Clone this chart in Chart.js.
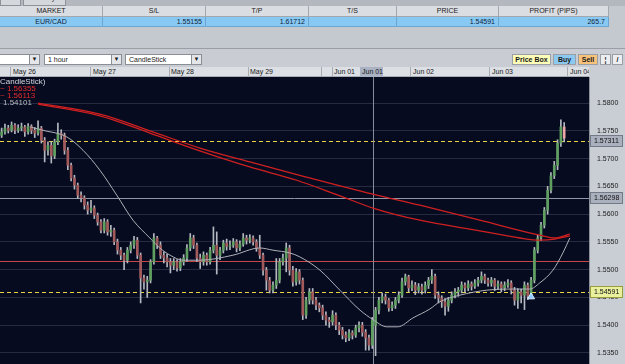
<!DOCTYPE html>
<html>
<head>
<meta charset="utf-8">
<script src="https://cdn.jsdelivr.net/npm/chart.js@4.4.1/dist/chart.umd.min.js"></script>
<style>
  body { margin: 0; width: 625px; height: 364px; overflow: hidden; background: #c4c8cf;
         font-family: "Liberation Sans", Arial, sans-serif; font-size: 7px; color: #1a1a1a; position: relative; }
  .abs { position: absolute; box-sizing: border-box; }
  .tab { background: #d4d7dc; border: 1px solid #8d9198; border-top: none; height: 6px; top: 0; }
  .hcell { top: 6px; height: 11px; line-height: 10px; text-align: center; background: #dadde2;
           border-right: 1px solid #a3a7ae; border-bottom: 1px solid #a3a7ae; }
  .dcell { top: 17px; height: 10px; line-height: 10px; text-align: right; padding-right: 3px; background: #87c9f3;
           border-right: 1px solid #6aa6cf; border-bottom: 1px solid #6aa6cf; color: #10243a; }
  .dd { top: 54px; height: 11px; background: #fff; border: 1px solid #8a8e95; line-height: 9px; padding-left: 3px; }
  .dd .arr { position: absolute; right: 0; top: 0; width: 9px; height: 9px; background: #e4e6ea;
             border-left: 1px solid #8a8e95; font-size: 6px; text-align: center; line-height: 9px; }
  .btn { top: 54px; height: 11px; line-height: 9px; text-align: center; border: 1px solid #9a9ea5; font-weight: bold; }
  .dsep { top: 67px; width: 1px; height: 10px; background: #a8acb3; }
  .dlab { top: 67px; height: 10px; line-height: 10px; }
  #wrap { left: 0; top: 77px; width: 625px; height: 287px; }
  .lg { left: 0; line-height: 7px; white-space: nowrap; font-size: 8px; }
</style>
</head>
<body>
<div class="abs" style="left:0;top:0;width:625px;height:6px;background:#b3b7be"></div>
<div class="abs tab" style="left:0;width:21px"></div>
<div class="abs tab" style="left:23px;width:43px;overflow:hidden"><span style="position:absolute;left:9px;top:-6px">Activity</span></div>

<div class="abs hcell" style="left:0;width:103px">MARKET</div>
<div class="abs hcell" style="left:103px;width:103px">S/L</div>
<div class="abs hcell" style="left:206px;width:103px">T/P</div>
<div class="abs hcell" style="left:309px;width:88px">T/S</div>
<div class="abs hcell" style="left:397px;width:102px">PRICE</div>
<div class="abs hcell" style="left:499px;width:110px">PROFIT (PIPS)</div>
<div class="abs dcell" style="left:0;width:103px;text-align:center;padding:0">EUR/CAD</div>
<div class="abs dcell" style="left:103px;width:103px">1.55155</div>
<div class="abs dcell" style="left:206px;width:103px">1.61712</div>
<div class="abs dcell" style="left:309px;width:88px"></div>
<div class="abs dcell" style="left:397px;width:102px">1.54591</div>
<div class="abs dcell" style="left:499px;width:110px">265.7</div>

<div class="abs" style="left:0;top:48px;width:625px;height:19px;background:#c9cdd3;border-top:1px solid #9a9ea6"></div>
<div class="abs dd" style="left:-2px;width:42px"><span class="arr">▼</span></div>
<div class="abs dd" style="left:44px;width:78px">1 hour<span class="arr">▼</span></div>
<div class="abs dd" style="left:125px;width:77px">CandleStick<span class="arr">▼</span></div>
<div class="abs btn" style="left:512px;width:39px;background:#fdfdb8">Price Box</div>
<div class="abs btn" style="left:553px;width:23px;background:#8cc9f1">Buy</div>
<div class="abs btn" style="left:578px;width:20px;background:#f7c27a">Sell</div>
<div class="abs btn" style="left:600px;width:11px;background:#eceef1">¦</div>
<div class="abs btn" style="left:612px;width:11px;background:#eceef1">/</div>

<div class="abs" style="left:0;top:67px;width:625px;height:10px;background:#dcdfe4;border-bottom:1px solid #a8acb3"></div>
<div class="abs" style="left:360px;top:67px;width:23px;height:10px;background:#a9b1c3"></div>
<div class="abs dsep" style="left:10px"></div><div class="abs dlab" style="left:13px">May 26</div>
<div class="abs dsep" style="left:90px"></div><div class="abs dlab" style="left:93px">May 27</div>
<div class="abs dsep" style="left:169px"></div><div class="abs dlab" style="left:171px">May 28</div>
<div class="abs dsep" style="left:248px"></div><div class="abs dlab" style="left:250px">May 29</div>
<div class="abs dsep" style="left:321px"></div>
<div class="abs dsep" style="left:332px"></div><div class="abs dlab" style="left:334px">Jun 01</div>
<div class="abs dlab" style="left:362px">Jun 01</div>
<div class="abs dsep" style="left:410px"></div><div class="abs dlab" style="left:413px">Jun 02</div>
<div class="abs dsep" style="left:489px"></div><div class="abs dlab" style="left:492px">Jun 03</div>
<div class="abs dsep" style="left:567px"></div><div class="abs dlab" style="left:570px">Jun 04</div>
<div class="abs" style="left:589px;top:67px;width:36px;height:10px;background:#c9cdd4"></div>

<div class="abs" id="wrap"><canvas id="chart"></canvas></div>

<div class="abs lg" style="top:78px;color:#d6d8de">CandleStick)</div>
<div class="abs lg" style="top:85px;color:#e52b2b">~ 1.56355</div>
<div class="abs lg" style="top:92px;color:#e52b2b">~ 1.56113</div>
<div class="abs lg" style="top:99px;left:3px;color:#b9bcc4">1.54101</div>

<script>
// hourly EUR/CAD candles
const opens = [1.5742,1.5748,1.5755,1.5751,1.5760,1.5751,1.5755,1.5757,1.5748,1.5758,
  1.5751,1.5746,1.5755,1.5733,1.5715,1.5724,1.5705,1.5730,1.5745,1.5742,
  1.5715,1.5688,1.5665,1.5652,1.5634,1.5629,1.5616,1.5607,1.5611,1.5598,
  1.5586,1.5571,1.5586,1.5568,1.5571,1.5550,1.5535,1.5526,1.5517,1.5535,
  1.5544,1.5553,1.5526,1.5485,1.5478,1.5481,1.5514,1.5557,1.5544,1.5526,
  1.5521,1.5514,1.5508,1.5514,1.5503,1.5514,1.5521,1.5539,1.5557,1.5544,
  1.5521,1.5514,1.5526,1.5514,1.5535,1.5544,1.5526,1.5535,1.5548,1.5542,
  1.5544,1.5550,1.5539,1.5546,1.5557,1.5553,1.5557,1.5550,1.5539,1.5526,
  1.5499,1.5481,1.5463,1.5472,1.5481,1.5514,1.5521,1.5539,1.5499,1.5478,
  1.5496,1.5481,1.5418,1.5445,1.5460,1.5445,1.5436,1.5431,1.5418,1.5409,
  1.5406,1.5418,1.5400,1.5391,1.5382,1.5377,1.5386,1.5382,1.5395,1.5400,
  1.5387,1.5377,1.5364,1.5400,1.5427,1.5445,1.5451,1.5445,1.5431,1.5436,
  1.5445,1.5454,1.5478,1.5487,1.5467,1.5472,1.5463,1.5469,1.5463,1.5472,
  1.5481,1.5488,1.5454,1.5449,1.5442,1.5434,1.5445,1.5454,1.5460,1.5463,
  1.5472,1.5467,1.5474,1.5470,1.5476,1.5481,1.5488,1.5481,1.5476,1.5481,
  1.5470,1.5474,1.5467,1.5472,1.5476,1.5463,1.5445,1.5460,1.5454,1.5472,
  1.5452,1.5481,1.5535,1.5557,1.5580,1.5607,1.5643,1.5669,1.5688,1.5728,
  1.5757];
const highs = [1.5755,1.5762,1.5760,1.5766,1.5763,1.5761,1.5764,1.5760,1.5763,1.5761,
  1.5756,1.5768,1.5758,1.5738,1.5730,1.5730,1.5735,1.5764,1.5752,1.5746,
  1.5720,1.5692,1.5670,1.5656,1.5640,1.5633,1.5622,1.5625,1.5615,1.5602,
  1.5590,1.5592,1.5590,1.5580,1.5575,1.5555,1.5540,1.5530,1.5540,1.5550,
  1.5560,1.5558,1.5530,1.5490,1.5488,1.5518,1.5565,1.5560,1.5550,1.5532,
  1.5528,1.5520,1.5520,1.5518,1.5520,1.5527,1.5545,1.5565,1.5562,1.5548,
  1.5528,1.5532,1.5530,1.5540,1.5577,1.5568,1.5540,1.5553,1.5555,1.5552,
  1.5556,1.5554,1.5552,1.5565,1.5562,1.5563,1.5561,1.5554,1.5562,1.5530,
  1.5504,1.5486,1.5478,1.5520,1.5520,1.5528,1.5548,1.5544,1.5506,1.5502,
  1.5500,1.5485,1.5450,1.5466,1.5466,1.5450,1.5440,1.5436,1.5424,1.5414,
  1.5426,1.5422,1.5405,1.5396,1.5388,1.5392,1.5390,1.5400,1.5406,1.5405,
  1.5392,1.5382,1.5414,1.5432,1.5450,1.5458,1.5456,1.5448,1.5442,1.5450,
  1.5460,1.5485,1.5492,1.5490,1.5480,1.5477,1.5475,1.5474,1.5478,1.5486,
  1.5500,1.5492,1.5460,1.5453,1.5448,1.5450,1.5460,1.5466,1.5468,1.5478,
  1.5476,1.5480,1.5478,1.5482,1.5486,1.5496,1.5492,1.5485,1.5486,1.5484,
  1.5480,1.5478,1.5478,1.5482,1.5480,1.5468,1.5466,1.5465,1.5478,1.5476,
  1.5486,1.5540,1.5562,1.5585,1.5612,1.5650,1.5675,1.5695,1.5734,1.5770,
  1.5765];
const lows = [1.5738,1.5744,1.5746,1.5748,1.5745,1.5747,1.5750,1.5740,1.5744,1.5745,
  1.5738,1.5742,1.5728,1.5694,1.5706,1.5692,1.5700,1.5725,1.5735,1.5708,
  1.5680,1.5660,1.5645,1.5628,1.5622,1.5609,1.5600,1.5602,1.5592,1.5580,
  1.5566,1.5566,1.5562,1.5560,1.5545,1.5528,1.5518,1.5500,1.5512,1.5530,
  1.5538,1.5520,1.5440,1.5465,1.5450,1.5476,1.5510,1.5538,1.5520,1.5512,
  1.5505,1.5494,1.5500,1.5497,1.5498,1.5508,1.5515,1.5534,1.5538,1.5515,
  1.5502,1.5508,1.5508,1.5510,1.5530,1.5492,1.5518,1.5530,1.5535,1.5536,
  1.5540,1.5532,1.5534,1.5542,1.5546,1.5548,1.5544,1.5533,1.5520,1.5490,
  1.5463,1.5458,1.5458,1.5466,1.5476,1.5508,1.5496,1.5490,1.5470,1.5472,
  1.5474,1.5410,1.5412,1.5438,1.5438,1.5428,1.5424,1.5410,1.5400,1.5396,
  1.5400,1.5392,1.5383,1.5375,1.5370,1.5372,1.5375,1.5378,1.5388,1.5380,
  1.5355,1.5355,1.5358,1.5345,1.5420,1.5440,1.5438,1.5425,1.5426,1.5430,
  1.5440,1.5450,1.5472,1.5460,1.5462,1.5455,1.5458,1.5456,1.5458,1.5466,
  1.5475,1.5448,1.5440,1.5432,1.5418,1.5425,1.5440,1.5449,1.5452,1.5458,
  1.5460,1.5462,1.5463,1.5466,1.5470,1.5476,1.5475,1.5470,1.5470,1.5462,
  1.5465,1.5460,1.5462,1.5468,1.5456,1.5436,1.5430,1.5440,1.5428,1.5446,
  1.5448,1.5476,1.5530,1.5552,1.5575,1.5600,1.5638,1.5664,1.5680,1.5722,
  1.5730];
const closes = [1.5748,1.5755,1.5751,1.5760,1.5751,1.5755,1.5757,1.5748,1.5758,1.5751,
  1.5746,1.5755,1.5733,1.5715,1.5724,1.5705,1.5730,1.5745,1.5742,1.5715,
  1.5688,1.5665,1.5652,1.5634,1.5629,1.5616,1.5607,1.5611,1.5598,1.5586,
  1.5571,1.5586,1.5568,1.5571,1.5550,1.5535,1.5526,1.5517,1.5535,1.5544,
  1.5553,1.5526,1.5485,1.5478,1.5481,1.5514,1.5557,1.5544,1.5526,1.5521,
  1.5514,1.5508,1.5514,1.5503,1.5514,1.5521,1.5539,1.5557,1.5544,1.5521,
  1.5514,1.5526,1.5514,1.5535,1.5544,1.5526,1.5535,1.5548,1.5542,1.5544,
  1.5550,1.5539,1.5546,1.5557,1.5553,1.5557,1.5550,1.5539,1.5526,1.5499,
  1.5481,1.5463,1.5472,1.5481,1.5514,1.5521,1.5539,1.5499,1.5478,1.5496,
  1.5481,1.5418,1.5445,1.5460,1.5445,1.5436,1.5431,1.5418,1.5409,1.5406,
  1.5418,1.5400,1.5391,1.5382,1.5377,1.5386,1.5382,1.5395,1.5400,1.5387,
  1.5377,1.5364,1.5409,1.5427,1.5445,1.5451,1.5445,1.5431,1.5436,1.5445,
  1.5454,1.5478,1.5487,1.5467,1.5472,1.5463,1.5469,1.5463,1.5472,1.5481,
  1.5488,1.5454,1.5449,1.5442,1.5434,1.5445,1.5454,1.5460,1.5463,1.5472,
  1.5467,1.5474,1.5470,1.5476,1.5481,1.5488,1.5481,1.5476,1.5481,1.5470,
  1.5474,1.5467,1.5472,1.5476,1.5463,1.5445,1.5460,1.5454,1.5472,1.5452,
  1.5481,1.5535,1.5557,1.5580,1.5607,1.5643,1.5669,1.5688,1.5728,1.5757,
  1.5737];

// moving averages, sampled at candle positions
const greyIdx = [8.6,12.5,19.7,24.6,29.7,34.8,39.7,44.8,47.8,50.9,54.8,59.9,69.9,78,82,87.1,90.1,96.2,102.2,108.3,112.2,116.4,119.7,124.3,129.4,132.4,138.5,146.6,154.5,159.6,162.6,166.6,169.6,171.7];
const greyVals = [1.5757,1.5751,1.5739,1.5715,1.5679,1.5634,1.5589,1.5557,1.5539,1.5526,1.5517,1.5517,1.5526,1.5539,1.5535,1.5530,1.5523,1.5499,1.5463,1.5427,1.5410,1.5397,1.5397,1.5413,1.5429,1.5442,1.5454,1.5463,1.5465,1.5465,1.5476,1.5499,1.5530,1.5557];
const redAIdx = [11,29.7,44.8,59.9,75,90.1,112.2,126.4,144.5,162.6,167.2,171.7];
const redAVals = [1.5800,1.5780,1.5750,1.5719,1.5694,1.5670,1.5636,1.5616,1.5589,1.5562,1.5557,1.5564];
const redBIdx = [11,29.7,44.8,59.9,75,89.2,102.2,112.2,126.4,144.5,156.6,162.6,167.2,171.7];
const redBVals = [1.5798,1.5777,1.5746,1.5714,1.5685,1.5661,1.5633,1.5611,1.5589,1.5570,1.5557,1.5553,1.5555,1.5561];

const levels = [1.57311, 1.56298, 1.55155, 1.54591];
const cursorIdx = 112.2;
const entryIdx = [160];
const entryVals = [1.5451];

const slots = 178;
const last = closes.length - 1;

function pts(idx, vals) {
    return idx.map((x, i) => ({ x: x, y: vals[i] }));
}

const wickData = highs.map((h, i) => ({ x: i, y: [lows[i], h] }));
const bodyData = opens.map((o, i) => ({ x: i, y: [o, closes[i]] }));
const bodyColors = opens.map((o, i) => i === last ? '#eaa6a6' : (closes[i] >= o ? '#5f9f5f' : '#a25a5a'));

const panelPlugin = {
    id: 'panel',
    beforeDraw(chart) {
        const { ctx, chartArea: a, width, height } = chart;
        ctx.save();
        ctx.fillStyle = '#070b20';
        ctx.fillRect(0, 0, width, height);
        ctx.fillStyle = '#c9cdd4';
        ctx.fillRect(a.right, 0, width - a.right, height);
        ctx.fillStyle = '#8c9098';
        ctx.fillRect(a.right, 0, 1, height);
        ctx.restore();
    },
    beforeDatasetsDraw(chart) {
        const { ctx, chartArea: a, scales } = chart;
        const y = scales.y, x = scales.x;
        const styles = [
            { c: '#e8d442', d: [4, 3] },
            { c: '#8f96a6', d: [] },
            { c: '#c44848', d: [] },
            { c: '#e8d442', d: [4, 3] }
        ];
        ctx.save();
        ctx.lineWidth = 1;
        levels.forEach((v, i) => {
            const py = Math.round(y.getPixelForValue(v)) + 0.5;
            ctx.strokeStyle = styles[i].c;
            ctx.setLineDash(styles[i].d);
            ctx.beginPath();
            ctx.moveTo(a.left, py);
            ctx.lineTo(a.right, py);
            ctx.stroke();
        });
        ctx.setLineDash([]);
        ctx.strokeStyle = '#868c9a';
        const px = Math.round(x.getPixelForValue(cursorIdx)) + 0.5;
        ctx.beginPath();
        ctx.moveTo(px, a.top);
        ctx.lineTo(px, a.bottom);
        ctx.stroke();
        ctx.restore();
    },
    afterDraw(chart) {
        const { ctx, chartArea: a, scales } = chart;
        const fills = ['#aab0bd', '#aab0bd', null, '#e9f09e'];
        const edges = ['#737985', '#737985', null, '#9c9c3c'];
        ctx.save();
        ctx.font = '7px "Liberation Sans", Arial, sans-serif';
        ctx.textBaseline = 'middle';
        levels.forEach((v, i) => {
            if (!fills[i]) return;
            const py = Math.round(scales.y.getPixelForValue(v));
            ctx.fillStyle = fills[i];
            ctx.fillRect(a.right + 1, py - 6, 33, 12);
            ctx.strokeStyle = edges[i];
            ctx.strokeRect(a.right + 1.5, py - 5.5, 32, 11);
            ctx.fillStyle = '#111';
            ctx.fillText(v.toFixed(5), a.right + 5, py + 0.5);
        });
        ctx.restore();
    }
};

new Chart(document.getElementById('chart'), {
    type: 'bar',
    data: {
        datasets: [
            { type: 'line', data: pts(greyIdx, greyVals), borderColor: '#aeb1b8', borderWidth: 1,
              pointRadius: 0, cubicInterpolationMode: 'monotone', order: 0 },
            { type: 'line', data: pts(redAIdx, redAVals), borderColor: '#cf2020', borderWidth: 1.3,
              pointRadius: 0, cubicInterpolationMode: 'monotone', order: 0 },
            { type: 'line', data: pts(redBIdx, redBVals), borderColor: '#cf2020', borderWidth: 1.3,
              pointRadius: 0, cubicInterpolationMode: 'monotone', order: 0 },
            { type: 'line', data: pts(entryIdx, entryVals), showLine: false, pointStyle: 'triangle',
              pointRadius: 4, backgroundColor: '#8ec8ff', borderColor: '#d4ecff', borderWidth: 1, order: 0 },
            { data: bodyData, backgroundColor: bodyColors, barThickness: 2, grouped: false, order: 1 },
            { data: wickData, backgroundColor: '#b4b8c0', barThickness: 1, grouped: false, order: 2 }
        ]
    },
    options: {
        responsive: true,
        maintainAspectRatio: false,
        animation: false,
        events: [],
        layout: { padding: 0, autoPadding: false },
        plugins: { legend: { display: false }, tooltip: { enabled: false } },
        scales: {
            x: { type: 'linear', display: false, offset: false, min: -0.5, max: slots - 0.5 },
            y: {
                position: 'right',
                min: 1.5330,
                max: 1.5847,
                afterFit(s) { s.width = 36; s.paddingTop = 0; s.paddingBottom = 0; },
                border: { display: false },
                grid: { color: 'rgba(120,130,155,0.28)', drawTicks: false },
                ticks: {
                    stepSize: 0.005,
                    includeBounds: false,
                    padding: 8,
                    color: '#1c1c1c',
                    font: { family: '"Liberation Sans", Arial, sans-serif', size: 7 },
                    callback: v => v.toFixed(4)
                }
            }
        }
    },
    plugins: [panelPlugin]
});
</script>
</body>
</html>
